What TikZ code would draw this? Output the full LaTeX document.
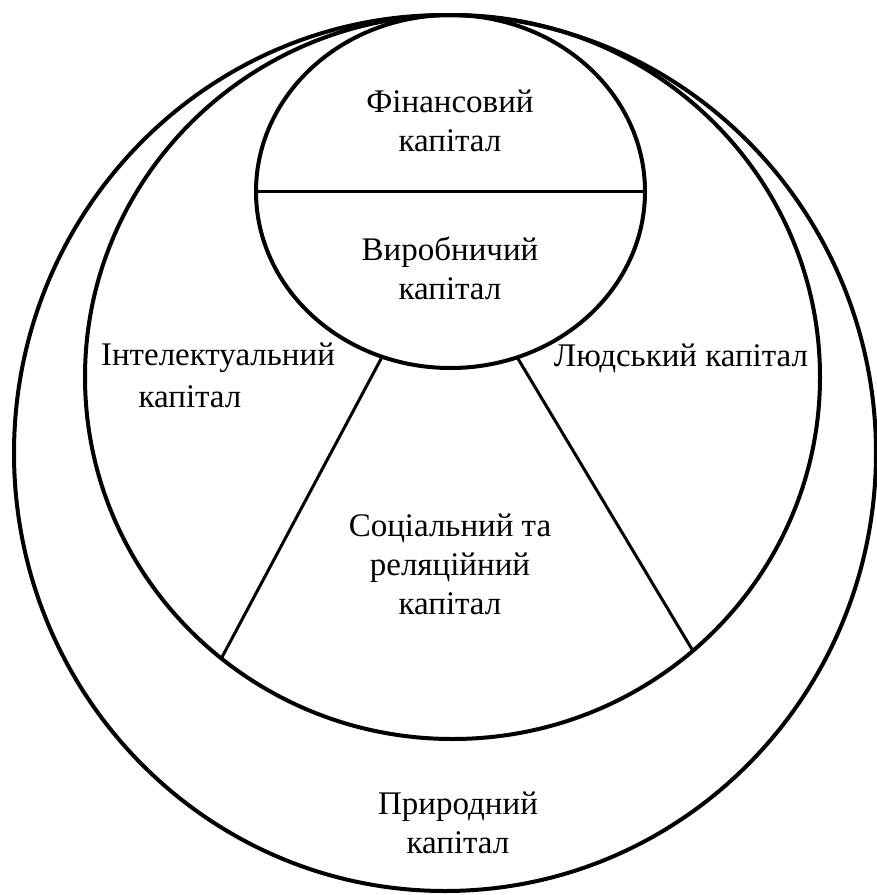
\documentclass[tikz,border=0pt]{standalone}
\usepackage{fontspec}
\setmainfont{Liberation Serif}
\begin{document}
\begin{tikzpicture}[x=1pt,y=-1pt,
  ring/.style={line width=4pt},
  divider/.style={line width=3pt},
  lbl/.style={font=\fontsize{33}{39}\selectfont, align=center, inner sep=0pt}]
\useasboundingbox (0,0) rectangle (877,895);
% outer circle (natural capital)
\draw[ring] (445,453) ellipse [x radius=431, y radius=438];
% middle circle
\draw[ring] (452.5,377) ellipse [x radius=367.5, y radius=362];
% small ellipse
\draw[ring] (450.5,191.5) ellipse [x radius=194.5, y radius=176.5];
% dividers
\coordinate (hl) at (256,191.5);
\coordinate (hr) at (645,191.5);
\draw[divider] (hl) -- (hr);
\coordinate (l1) at (382,357);
\coordinate (l2) at (221,659);
\coordinate (r1) at (517,357);
\coordinate (r2) at (693,651);
\draw[divider] (l1) -- (l2);
\draw[divider] (r1) -- (r2);
% labels
\node[lbl] (fin) at (450,121) {Фінансовий\\капітал};
\node[lbl] (vyr) at (450,268) {Виробничий\\капітал};
\node[lbl] (int1) at (218,358) {Інтелектуальний};
\node[lbl] (int2) at (190,397) {капітал};
\node[lbl] (lud) at (681,358) {Людський капітал};
\node[lbl] (soc) at (450,564) {Соціальний та\\реляційний\\капітал};
\node[lbl] (pryr) at (458,823) {Природний\\капітал};
\end{tikzpicture}
\end{document}
